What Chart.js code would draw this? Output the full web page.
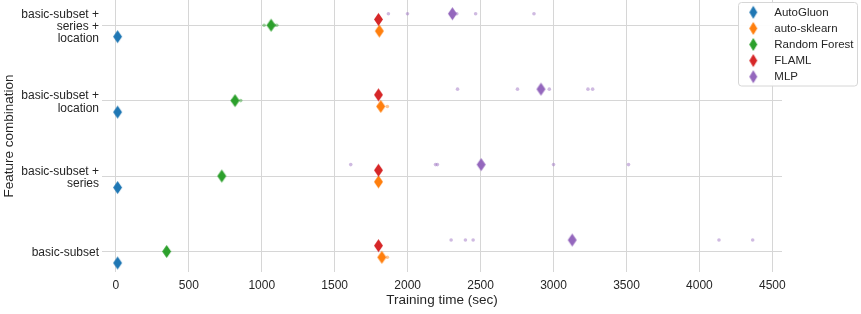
<!DOCTYPE html>
<html lang="en">
<head>
<meta charset="utf-8">
<title>Training time by feature combination</title>
<script src="https://cdn.jsdelivr.net/npm/chart.js@4.4.1/dist/chart.umd.min.js"></script>
<style>
    html, body { margin: 0; padding: 0; background: #fff; }
    #chart { display: block; }
</style>
</head>
<body>
<canvas id="chart" width="861" height="314"></canvas>
<script>
    // feature combinations, top to bottom
    var categories = [
        ['basic-subset +', 'series +', 'location'],
        ['basic-subset +', 'location'],
        ['basic-subset +', 'series'],
        ['basic-subset']
    ];
    var timeTicks = [0, 500, 1000, 1500, 2000, 2500, 3000, 3500, 4000, 4500];
    var frameworks = ['AutoGluon', 'auto-sklearn', 'Random Forest', 'FLAML', 'MLP'];
    var colors = ['#1f77b4', '#ff7f0e', '#2ca02c', '#d62728', '#9467bd'];

    // mean training time (the diamonds), one per feature combination
    var autogluonMean = [12, 12, 12, 12];
    var autosklearnMean = [1806, 1816, 1800, 1823];
    var randomForestMean = [1064, 817, 726, 348];
    var flamlMean = [1800, 1800, 1800, 1800];
    var mlpMean = [2307, 2914, 2504, 3128];

    // single runs (the small dots)
    var autogluonRuns = [[10, 11, 12, 13, 14], [10, 11, 12, 13, 14], [10, 11, 12, 13, 14], [10, 11, 12, 13, 14]];
    var autosklearnRuns = [[1803, 1805, 1806, 1807, 1809], [1861, 1805, 1805, 1805, 1804], [1800, 1799, 1801, 1800, 1800], [1861, 1814, 1814, 1813, 1813]];
    var randomForestRuns = [[1016, 1050, 1064, 1087, 1103], [856, 800, 805, 810, 814], [715, 722, 726, 730, 737], [340, 345, 348, 351, 356]];
    var flamlRuns = [[1798, 1799, 1800, 1801, 1802], [1798, 1799, 1800, 1801, 1802], [1798, 1799, 1800, 1801, 1802], [1798, 1799, 1800, 1801, 1802]];
    var mlpRuns = [[1868, 1999, 2337, 2466, 2866], [2342, 2753, 2971, 3236, 3268], [1610, 2191, 2204, 3000, 3514], [2298, 2396, 2449, 4134, 4365]];

    var means = [autogluonMean, autosklearnMean, randomForestMean, flamlMean, mlpMean];
    var runs = [autogluonRuns, autosklearnRuns, randomForestRuns, flamlRuns, mlpRuns];

    // vertical dodge of each framework inside a category row
    var dodge = [0.152, 0.077, 0, -0.077, -0.152];
    var textColor = '#262626';
    var fontFamily = '"Liberation Sans", Arial, Helvetica, sans-serif';

    function makeDiamond(color, w, h) {
        var c = document.createElement('canvas');
        c.width = w + 2;
        c.height = h + 2;
        var g = c.getContext('2d');
        g.fillStyle = color;
        g.beginPath();
        g.moveTo(c.width / 2, 1);
        g.lineTo(c.width - 1, c.height / 2);
        g.lineTo(c.width / 2, c.height - 1);
        g.lineTo(1, c.height / 2);
        g.closePath();
        g.fill();
        return c;
    }

    function alpha(hex, a) {
        var n = parseInt(hex.slice(1), 16);
        return 'rgba(' + (n >> 16) + ',' + ((n >> 8) & 255) + ',' + (n & 255) + ',' + a + ')';
    }

    var datasets = [];
    frameworks.forEach(function (name, k) {
        var dots = [];
        runs[k].forEach(function (row, i) {
            row.forEach(function (v) {
                dots.push({x: v, y: i + dodge[k]});
            });
        });
        datasets.push({
            label: name + ' runs',
            data: dots,
            pointRadius: 1.8,
            pointBorderWidth: 0,
            pointBackgroundColor: alpha(colors[k], 0.45),
            order: 10
        });
    });
    frameworks.forEach(function (name, k) {
        datasets.push({
            label: name,
            data: means[k].map(function (v, i) { return {x: v, y: i + dodge[k]}; }),
            pointStyle: makeDiamond(colors[k], 9, 13),
            pointRadius: 6,
            backgroundColor: colors[k],
            order: 5 - k
        });
    });

    var legendBox = {
        id: 'legendBox',
        afterDraw: function (chart) {
            var ctx = chart.ctx;
            var x = 738.5, y = 2.5, w = 119, h = 83.5, r = 3;
            ctx.save();
            ctx.beginPath();
            ctx.moveTo(x + r, y);
            ctx.arcTo(x + w, y, x + w, y + h, r);
            ctx.arcTo(x + w, y + h, x, y + h, r);
            ctx.arcTo(x, y + h, x, y, r);
            ctx.arcTo(x, y, x + w, y, r);
            ctx.closePath();
            ctx.fillStyle = 'rgba(255,255,255,0.95)';
            ctx.fill();
            ctx.strokeStyle = '#d6d6d6';
            ctx.lineWidth = 1;
            ctx.stroke();
            ctx.font = '11.5px ' + fontFamily;
            ctx.textBaseline = 'middle';
            frameworks.forEach(function (name, k) {
                var cy = 12.3 + k * 16.1;
                var d = makeDiamond(colors[k], 8, 13);
                ctx.drawImage(d, 753.3 - d.width / 2, cy - d.height / 2);
                ctx.fillStyle = textColor;
                ctx.fillText(name, 774.3, cy + 0.5);
            });
            ctx.restore();
        }
    };

    new Chart(document.getElementById('chart'), {
        type: 'scatter',
        data: {datasets: datasets},
        options: {
            responsive: false,
            devicePixelRatio: 1,
            animation: false,
            layout: {autoPadding: false, padding: {top: 0, right: 79, bottom: 0, left: 0}},
            plugins: {legend: {display: false}, tooltip: {enabled: false}},
            scales: {
                x: {
                    type: 'linear',
                    min: -95,
                    max: 4566,
                    afterBuildTicks: function (scale) {
                        scale.ticks = timeTicks.map(function (v) { return {value: v}; });
                    },
                    afterFit: function (scale) { scale.height = 42; },
                    border: {display: false},
                    grid: {color: '#d6d6d6', lineWidth: 1, drawTicks: false},
                    ticks: {
                        color: textColor,
                        font: {family: fontFamily, size: 12},
                        padding: 6,
                        maxRotation: 0,
                        autoSkip: false,
                        callback: function (value) { return String(value); }
                    },
                    title: {
                        display: true,
                        text: 'Training time (sec)',
                        color: textColor,
                        font: {family: fontFamily, size: 13.5},
                        padding: {top: 0, bottom: 6}
                    }
                },
                y: {
                    type: 'linear',
                    reverse: true,
                    min: -0.334,
                    max: 3.272,
                    afterBuildTicks: function (scale) {
                        scale.ticks = categories.map(function (c, i) { return {value: i}; });
                    },
                    afterFit: function (scale) {
                        scale.width = 102;
                        scale.paddingTop = 0;
                        scale.paddingBottom = 0;
                    },
                    border: {display: false},
                    grid: {color: '#d6d6d6', lineWidth: 1, drawTicks: false},
                    ticks: {
                        color: textColor,
                        font: {family: fontFamily, size: 12, lineHeight: 1.04},
                        padding: 3,
                        labelOffset: 1.5,
                        autoSkip: false,
                        callback: function (value) { return categories[value]; }
                    },
                    title: {
                        display: true,
                        text: 'Feature combination',
                        color: textColor,
                        font: {family: fontFamily, size: 13.5},
                        padding: {top: 1, bottom: 0}
                    }
                }
            }
        },
        plugins: [legendBox]
    });
</script>
</body>
</html>
